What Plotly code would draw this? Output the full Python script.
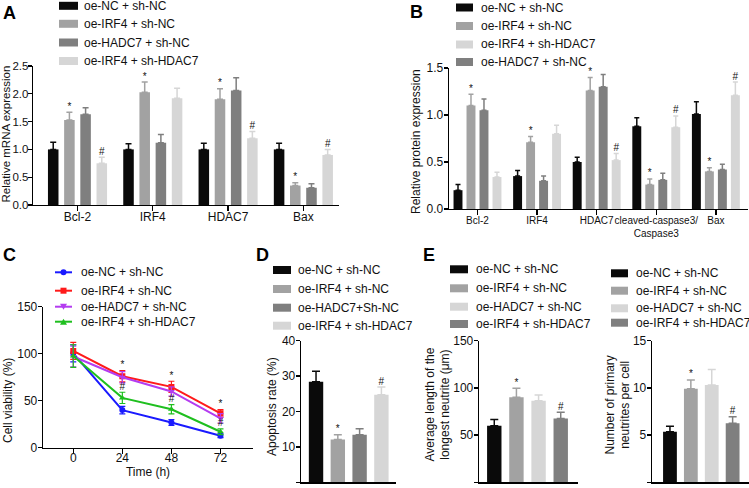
import plotly.graph_objects as go

W, H = 749, 488
FONT = "Arial, 'Liberation Sans', sans-serif"

def px(x):
    return x / W

def py(y):
    return 1 - y / H

# ---------------- Panel A data ----------------
a_genes = ["Bcl-2", "IRF4", "HDAC7", "Bax"]
a_names = ["oe-NC + sh-NC", "oe-IRF4 + sh-NC", "oe-HADC7 + sh-NC", "oe-IRF4 + sh-HDAC7"]
a_vals = [
    [1.00, 1.00, 1.00, 1.00],
    [1.53, 2.03, 1.90, 0.35],
    [1.63, 1.12, 2.06, 0.31],
    [0.75, 1.92, 1.20, 0.90],
]
a_errs = [
    [0.13, 0.10, 0.11, 0.11],
    [0.14, 0.18, 0.19, 0.05],
    [0.12, 0.15, 0.23, 0.07],
    [0.11, 0.18, 0.12, 0.10],
]
a_sig = [
    ["", "", "", ""],
    ["*", "*", "*", "*"],
    ["", "", "", ""],
    ["#", "", "#", "#"],
]

# ---------------- Panel B data ----------------
b_genes = ["Bcl-2", "IRF4", "HDAC7", "cleaved-caspase3/<br>Caspase3", "Bax"]
# legend order
b_names = ["oe-NC + sh-NC", "oe-IRF4 + sh-NC", "oe-IRF4 + sh-HDAC7", "oe-HADC7 + sh-NC"]
b_slot = [0, 1, 3, 2]  # position inside each group
b_vals = [
    [0.20, 0.35, 0.50, 0.88, 1.01],
    [1.10, 0.71, 1.26, 0.26, 0.40],
    [0.34, 0.80, 0.52, 0.87, 1.21],
    [1.05, 0.30, 1.30, 0.31, 0.42],
]
b_errs = [
    [0.06, 0.06, 0.05, 0.09, 0.13],
    [0.12, 0.06, 0.14, 0.06, 0.04],
    [0.05, 0.09, 0.07, 0.12, 0.14],
    [0.12, 0.05, 0.13, 0.07, 0.055],
]
b_sig = [
    ["", "", "", "", ""],
    ["*", "*", "*", "*", "*"],
    ["", "", "#", "#", "#"],
    ["", "", "", "", ""],
]

# ---------------- Panel C data ----------------
c_time = [0, 24, 48, 72]
c_names = ["oe-NC + sh-NC", "oe-IRF4 + sh-NC", "oe-HADC7 + sh-NC", "oe-IRF4 + sh-HDAC7"]
c_vals = [
    [100.4, 40.0, 26.8, 12.8],
    [103.0, 76.0, 64.7, 36.6],
    [97.0, 75.0, 59.8, 31.3],
    [97.5, 53.0, 40.9, 17.0],
]
c_errs = [
    [9, 4, 3, 2],
    [9, 6, 6, 4],
    [11, 6, 5, 5],
    [12, 6, 5, 3],
]
c_star = ["", "*", "*", "*"]   # above oe-IRF4 + sh-NC
c_hash = ["", "#", "#", "#"]   # above oe-IRF4 + sh-HDAC7

# ---------------- Panel D data ----------------
d_names = ["oe-NC + sh-NC", "oe-IRF4 + sh-NC", "oe-HADC7+Sh-NC", "oe-IRF4 + sh-HDAC7"]
d_vals = [28.4, 12.1, 13.4, 24.7]
d_errs = [3.0, 1.3, 1.7, 2.2]
d_sig = ["", "*", "", "#"]

# ---------------- Panel E data ----------------
e_names = ["oe-NC + sh-NC", "oe-IRF4 + sh-NC", "oe-HADC7 + sh-NC", "oe-IRF4 + sh-HDAC7"]
e1_vals = [60.0, 90.0, 86.5, 67.5]
e1_errs = [6.5, 9.5, 6.0, 6.8]
e1_sig = ["", "*", "", "#"]
e2_vals = [5.35, 9.9, 10.3, 6.25]
e2_errs = [0.6, 0.95, 1.65, 0.7]
e2_sig = ["", "*", "", "#"]

# y-axis titles
y_titles = {
    "A": "Relative mRNA expression",
    "B": "Relative protein expression",
    "C": "Cell viability (%)",
    "D": "Apoptosis rate (%)",
    "E1": "Average length of the<br>longest neutrite (μm)",
    "E2": "Number of primary<br>neutrites per cell",
}

BLACK = "#0a0a0a"
GRAY = "#a2a2a2"
DARK = "#7f7f7f"
LIGHT = "#d6d6d6"

fig = go.Figure()

def sig_trace(xs, ys, texts, xa, ya, size=10, color="#111"):
    return go.Scatter(x=xs, y=ys, text=texts, mode="text", textposition="top center",
                      textfont=dict(size=size, color=color, family=FONT),
                      showlegend=False, hoverinfo="skip", cliponaxis=False,
                      xaxis=xa, yaxis=ya)

# Panel A
a_colors = [BLACK, GRAY, DARK, LIGHT]
a_step = 0.215
for i in range(4):
    xs = [g + (i - 1.5) * a_step for g in range(len(a_genes))]
    fig.add_trace(go.Bar(
        x=xs, y=a_vals[i], width=0.14, name=a_names[i], marker=dict(color=a_colors[i], line=dict(width=0)),
        error_y=dict(type="data", array=a_errs[i], arrayminus=[0] * 4, symmetric=False,
                     color=a_colors[i], thickness=1.5, width=3),
        xaxis="x", yaxis="y"))
for i in range(4):
    xs = [g + (i - 1.5) * a_step for g in range(len(a_genes))]
    ys = [v + e for v, e in zip(a_vals[i], a_errs[i])]
    fig.add_trace(sig_trace(xs, ys, a_sig[i], "x", "y"))

# Panel B
b_colors = [BLACK, GRAY, LIGHT, DARK]
b_step = 0.218
for i in range(4):
    xs = [g + (b_slot[i] - 1.5) * b_step for g in range(len(b_genes))]
    fig.add_trace(go.Bar(
        x=xs, y=b_vals[i], width=0.15, name=b_names[i], marker=dict(color=b_colors[i], line=dict(width=0)),
        error_y=dict(type="data", array=b_errs[i], arrayminus=[0] * 5, symmetric=False,
                     color=b_colors[i], thickness=1.5, width=2.5),
        xaxis="x2", yaxis="y2"))
for i in range(4):
    xs = [g + (b_slot[i] - 1.5) * b_step for g in range(len(b_genes))]
    ys = [v + e for v, e in zip(b_vals[i], b_errs[i])]
    fig.add_trace(sig_trace(xs, ys, b_sig[i], "x2", "y2"))

# Panel C
c_colors = ["#1a1aff", "#ff1a1a", "#b43cf0", "#1fbf1f"]
c_symbols = ["circle", "square", "triangle-down", "triangle-up"]
for i in range(4):
    fig.add_trace(go.Scatter(
        x=c_time, y=c_vals[i], name=c_names[i], mode="lines+markers",
        line=dict(color=c_colors[i], width=2),
        marker=dict(symbol=c_symbols[i], size=6, color=c_colors[i]),
        error_y=dict(type="data", array=c_errs[i], color=c_colors[i], thickness=1.2, width=3),
        xaxis="x3", yaxis="y3"))
fig.add_trace(sig_trace(c_time, [v + e for v, e in zip(c_vals[1], c_errs[1])], c_star, "x3", "y3"))
fig.add_trace(sig_trace(c_time, [v + e for v, e in zip(c_vals[3], c_errs[3])], c_hash, "x3", "y3"))

# Panel D
d_colors = [BLACK, GRAY, DARK, LIGHT]
for i in range(4):
    fig.add_trace(go.Bar(
        x=[i], y=[d_vals[i]], width=0.66, name=d_names[i], marker=dict(color=d_colors[i], line=dict(width=0)),
        error_y=dict(type="data", array=[d_errs[i]], arrayminus=[0], symmetric=False,
                     color=d_colors[i], thickness=1.5, width=4),
        xaxis="x4", yaxis="y4"))
fig.add_trace(sig_trace(list(range(4)), [v + e for v, e in zip(d_vals, d_errs)], d_sig, "x4", "y4"))

# Panel E
e_colors = [BLACK, GRAY, LIGHT, DARK]
for i in range(4):
    fig.add_trace(go.Bar(
        x=[i], y=[e1_vals[i]], width=0.65, name=e_names[i], marker=dict(color=e_colors[i], line=dict(width=0)),
        error_y=dict(type="data", array=[e1_errs[i]], arrayminus=[0], symmetric=False,
                     color=e_colors[i], thickness=1.5, width=4),
        xaxis="x5", yaxis="y5"))
fig.add_trace(sig_trace(list(range(4)), [v + e for v, e in zip(e1_vals, e1_errs)], e1_sig, "x5", "y5"))
for i in range(4):
    fig.add_trace(go.Bar(
        x=[i], y=[e2_vals[i]], width=0.66, name=e_names[i], marker=dict(color=e_colors[i], line=dict(width=0)),
        error_y=dict(type="data", array=[e2_errs[i]], arrayminus=[0], symmetric=False,
                     color=e_colors[i], thickness=1.5, width=4),
        xaxis="x6", yaxis="y6"))
fig.add_trace(sig_trace(list(range(4)), [v + e for v, e in zip(e2_vals, e2_errs)], e2_sig, "x6", "y6"))

# ---------------- Axes ----------------
TICKF = dict(size=12, color="#111", family=FONT)
TITLEF = dict(size=12, color="#111", family=FONT)

def xax(domain, rng, **kw):
    d = dict(domain=domain, range=rng, showline=True, linecolor="black", linewidth=1.3,
             showgrid=False, zeroline=False, ticks="outside", ticklen=5, tickwidth=1.3,
             tickcolor="black", tickfont=TICKF, fixedrange=True, tickangle=0, automargin=False)
    d.update(kw)
    return d

def yax(domain, rng, dtick, fmt=None, **kw):
    d = dict(domain=domain, range=rng, dtick=dtick, tick0=0, showline=True, linecolor="black",
             linewidth=1.3, showgrid=False, zeroline=False, ticks="outside", ticklen=4,
             tickwidth=1.3, tickcolor="black", tickfont=TICKF, fixedrange=True, automargin=False,
             ticklabelstandoff=-2)
    if fmt:
        d["tickformat"] = fmt
    d.update(kw)
    return d

BOT = 482.3
TOPL = 340.7

layout = dict(
    width=W, height=H, margin=dict(l=0, r=0, t=0, b=0, autoexpand=False),
    paper_bgcolor="white", plot_bgcolor="rgba(0,0,0,0)",
    font=dict(family=FONT, color="#111"),
    barmode="overlay", showlegend=False,
    xaxis=xax([px(33), px(339)], [-0.591, 3.473], tickvals=list(range(len(a_genes))),
              ticktext=a_genes, anchor="y", ticklabelstandoff=-5),
    yaxis=yax([py(205), py(66)], [0, 2.5], 0.5, ".1f", anchor="x", ticklabelstandoff=-3,
              tickfont=dict(size=11.5, color="#111", family=FONT)),
    xaxis2=xax([px(449), px(748)], [-0.478, 4.539], tickvals=list(range(len(b_genes))),
               ticktext=b_genes, anchor="y2", ticklabelstandoff=-3,
               tickfont=dict(size=10, color="#111", family=FONT)),
    yaxis2=yax([py(209), py(68)], [0, 1.5], 0.5, ".1f", anchor="x2"),
    xaxis3=xax([px(43), px(253)], [-14.8, 87.9], tickvals=c_time, anchor="y3", ticklabelstandoff=-6,
               title=dict(text="Time (h)", font=TITLEF, standoff=0)),
    yaxis3=yax([py(447.7), py(306.7)], [0, 150], 50, anchor="x3"),
    xaxis4=xax([px(301), px(396)], [-0.69, 3.67], showticklabels=False, ticks="", anchor="y4"),
    yaxis4=yax([py(BOT), py(TOPL)], [0, 40], 10, anchor="x4"),
    xaxis5=xax([px(479), px(578)], [-0.69, 3.78], showticklabels=False, ticks="", anchor="y5"),
    yaxis5=yax([py(BOT), py(TOPL)], [0, 150], 50, anchor="x5"),
    xaxis6=xax([px(652), px(748.5)], [-0.86, 3.76], showticklabels=False, ticks="", anchor="y6"),
    yaxis6=yax([py(BOT), py(TOPL)], [0, 15], 5, anchor="x6"),
)

# ---------------- Legends (keys drawn as shapes, labels as text) ----------------
shapes = []
annotations = []
LEGF = dict(size=12, color="#111", family=FONT)

def box_legend(names, colors, x0, x1, text_x, rows, h=8):
    for name, col, yc in zip(names, colors, rows):
        shapes.append(dict(type="rect", xref="paper", yref="paper", x0=px(x0), x1=px(x1),
                           y0=py(yc + h / 2), y1=py(yc - h / 2), fillcolor=col, line=dict(width=0)))
        annotations.append(dict(text=name, x=px(text_x), y=py(yc), xref="paper", yref="paper",
                                xanchor="left", yanchor="middle", showarrow=False, font=LEGF))

box_legend(a_names, a_colors, 59, 78, 82, [5.8, 23.8, 42.5, 61])
box_legend(b_names, b_colors, 456, 473, 479, [7.5, 26, 44.5, 62])
box_legend(d_names, d_colors, 273, 291, 296, [270, 289, 307.7, 325.7])
box_legend(e_names, e_colors, 450, 468, 474, [269.3, 288.3, 306.7, 324])
box_legend(e_names, e_colors, 611, 628, 634, [273.3, 290.7, 308.3, 322.7])

# Panel C legend: line + marker keys
c_rows = [272.3, 290.7, 306.7, 321.7]
for name, col, sym, yc in zip(c_names, c_colors, c_symbols, c_rows):
    shapes.append(dict(type="line", xref="paper", yref="paper", x0=px(55), x1=px(72),
                       y0=py(yc), y1=py(yc), line=dict(color=col, width=2)))
    cx, r = 63.5, 3
    if sym == "circle":
        shapes.append(dict(type="circle", xref="paper", yref="paper", x0=px(cx - r), x1=px(cx + r),
                           y0=py(yc + r), y1=py(yc - r), fillcolor=col, line=dict(width=0)))
    elif sym == "square":
        shapes.append(dict(type="rect", xref="paper", yref="paper", x0=px(cx - r), x1=px(cx + r),
                           y0=py(yc + r), y1=py(yc - r), fillcolor=col, line=dict(width=0)))
    elif sym == "triangle-down":
        path = "M %f %f L %f %f L %f %f Z" % (px(cx - r - 0.5), py(yc - r), px(cx + r + 0.5), py(yc - r),
                                               px(cx), py(yc + r))
        shapes.append(dict(type="path", xref="paper", yref="paper", path=path, fillcolor=col, line=dict(width=0)))
    else:
        path = "M %f %f L %f %f L %f %f Z" % (px(cx - r - 0.5), py(yc + r), px(cx + r + 0.5), py(yc + r),
                                               px(cx), py(yc - r))
        shapes.append(dict(type="path", xref="paper", yref="paper", path=path, fillcolor=col, line=dict(width=0)))
    annotations.append(dict(text=name, x=px(79), y=py(yc), xref="paper", yref="paper",
                            xanchor="left", yanchor="middle", showarrow=False, font=LEGF))

# y-axis titles (rotated text)
title_pos = {"A": (5.5, 134), "B": (416, 142), "C": (8, 401), "D": (272, 407),
             "E1": (437.5, 405), "E2": (617.5, 405)}
for key, (x, y) in title_pos.items():
    f = dict(TITLEF)
    if key == "A":
        f["size"] = 11.5
    annotations.append(dict(text=y_titles[key], x=px(x), y=py(y), xref="paper", yref="paper",
                            xanchor="center", yanchor="middle", textangle=-90, showarrow=False,
                            font=f))

letters = [("A", 1, 1), ("B", 408, 0), ("C", 1, 243), ("D", 254, 243), ("E", 421, 243)]
for t, x, y in letters:
    annotations.append(dict(text="<b>%s</b>" % t, x=px(x), y=py(y), xref="paper", yref="paper",
                            xanchor="left", yanchor="top", showarrow=False,
                            font=dict(size=18, color="black", family=FONT)))

layout["shapes"] = shapes
layout["annotations"] = annotations

fig.update_layout(**layout)
fig.write_html("out.html", config={"displayModeBar": False, "staticPlot": True},
               post_script="document.body.style.margin='0';document.body.style.overflow='hidden';")
